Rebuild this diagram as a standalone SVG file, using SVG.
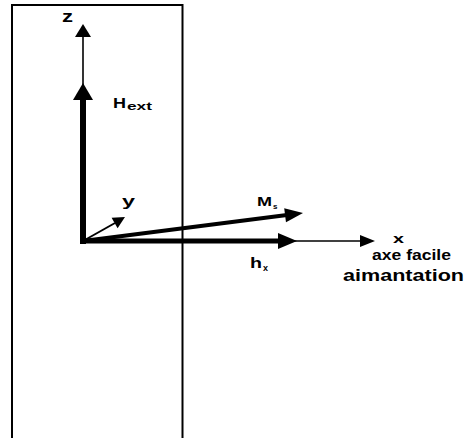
<svg xmlns="http://www.w3.org/2000/svg" width="465" height="438" viewBox="0 0 465 438">
<style>
.t{font-family:"Liberation Sans",Arial,sans-serif;font-weight:bold;fill:#000}
.thin{stroke:#000;stroke-width:1.6;fill:none}
.head{fill:#000;stroke:none}
</style>
<rect width="465" height="438" fill="#fff"/>
<g id="plate">
<path d="M12,440 V5 H182.5 V440" fill="none" stroke="#000" stroke-width="2"/>
</g>
<g id="connectors">
<g id="axis-z">
<line class="thin" x1="83" y1="241" x2="83" y2="35"/>
<polygon class="head" points="83,24 75,37 91,37"/>
</g>
<g id="axis-x">
<line class="thin" x1="83" y1="241" x2="361" y2="241"/>
<polygon class="head" points="375,241 360,235 360,247"/>
</g>
<g id="axis-y">
<line stroke="#000" stroke-width="2" x1="83" y1="241" x2="115" y2="223"/>
<polygon class="head" points="125,217 117.6,228.2 111.6,217.8"/>
</g>
<g id="vec-Hext">
<line stroke="#000" stroke-width="6" x1="83" y1="244" x2="83" y2="98"/>
<polygon class="head" points="83,83 73,100 93,100"/>
</g>
<g id="vec-hx">
<line stroke="#000" stroke-width="5" x1="80" y1="241" x2="280" y2="241"/>
<polygon class="head" points="297,241 278,233 278,249"/>
</g>
<g id="vec-M">
<line stroke="#000" stroke-width="4" x1="83" y1="241" x2="287" y2="215"/>
<polygon class="head" points="303,213 286,222.2 284.2,208.3"/>
</g>
</g>
<g id="labels">
<text class="t" x="62" y="22" font-size="16" textLength="11" lengthAdjust="spacingAndGlyphs">z</text>
<text class="t" x="113" y="108" font-size="15" textLength="13" lengthAdjust="spacingAndGlyphs">H</text>
<text class="t" x="127" y="110" font-size="10" textLength="25" lengthAdjust="spacingAndGlyphs">ext</text>
<text class="t" x="122" y="206" font-size="15" textLength="13" lengthAdjust="spacingAndGlyphs">y</text>
<text class="t" x="257" y="206" font-size="12" textLength="15" lengthAdjust="spacingAndGlyphs">M</text>
<text class="t" x="273" y="209" font-size="8">s</text>
<text class="t" x="250" y="268" font-size="15" textLength="12" lengthAdjust="spacingAndGlyphs">h</text>
<text class="t" x="263" y="271" font-size="9">x</text>
<text class="t" x="393" y="243" font-size="13" textLength="11" lengthAdjust="spacingAndGlyphs">x</text>
<text class="t" x="372" y="260" font-size="15.5" textLength="79" lengthAdjust="spacingAndGlyphs">axe facile</text>
<text class="t" x="343" y="281" font-size="16" textLength="121" lengthAdjust="spacingAndGlyphs">aimantation</text>
</g>
</svg>
